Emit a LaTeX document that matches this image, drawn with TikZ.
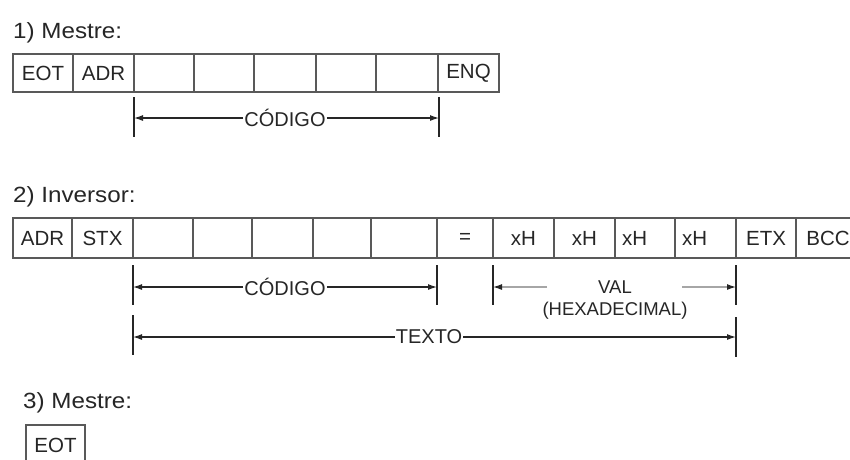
\documentclass[tikz,border=0pt]{standalone}
\usepackage{fontspec}
\setmainfont{Liberation Sans}
\newfontfamily\titlefont[FakeStretch=1.1]{Liberation Sans}
\usetikzlibrary{arrows.meta}

\definecolor{ink}{HTML}{262626}

\tikzset{
  cell/.style 2 args={draw=black!65, line width=1.4pt, minimum width=#1, minimum height=#2,
    inner sep=0pt, text=ink, font=\fontsize{20.5}{20.5}\selectfont},
  leftcell/.style 2 args={cell={#1}{#2}, text width=#1-14pt, align=left, inner xsep=7pt},
  heading/.style={anchor=base west, inner sep=0pt, text=ink, font=\titlefont\fontsize{22}{22}\selectfont},
  dimlabel/.style={inner sep=1pt, text=ink, font=\fontsize{20}{20}\selectfont},
  vallabel/.style={inner sep=1pt, text=ink, font=\fontsize{18.5}{18.5}\selectfont},
  bar/.style={line width=1.4pt, draw=black!85},
  dimline/.style={line width=1.2pt, draw=black!85, -{Latex[length=9pt,width=6pt]}},
  greyline/.style={line width=1.2pt, draw=black!35, -{Latex[length=9pt,width=6pt,black!85]}}
}

\begin{document}
\begin{tikzpicture}[x=1pt,y=-1pt]
  \clip (0,0) rectangle (850,459);
  \fill[white] (0,0) rectangle (850,459);

  % 1) Mestre
  \node[heading] (t1) at (13,38) {1) Mestre:};
  \node[cell={60}{38}] (m1) at (43,73) {EOT};
  \node[cell={61}{38}] (m2) at (103.5,73) {ADR};
  \node[cell={60}{38}] (m3) at (164,73) {};
  \node[cell={60}{38}] (m4) at (224,73) {};
  \node[cell={62}{38}] (m5) at (285,73) {};
  \node[cell={60}{38}] (m6) at (346,73) {};
  \node[cell={62}{38}] (m7) at (407,73) {};
  \node[cell={61}{38}] (m8) at (468.5,73) {ENQ};

  \coordinate (b1a) at (134,97);  \coordinate (b1b) at (134,137);
  \coordinate (b2a) at (439,97);  \coordinate (b2b) at (439,137);
  \coordinate (a1l) at (134,118); \coordinate (a1r) at (439,118);
  \draw[bar] (b1a) -- (b1b);
  \draw[bar] (b2a) -- (b2b);
  \node[dimlabel] (cod1) at (285,118) {CÓDIGO};
  \draw[dimline] (cod1.west) -- (a1l);
  \draw[dimline] (cod1.east) -- (a1r);

  % 2) Inversor
  \node[heading] (t2) at (13,202) {2) Inversor:};
  \node[cell={59}{40}] (i1) at (42.5,238) {ADR};
  \node[cell={61}{40}] (i2) at (102.5,238) {STX};
  \node[cell={60}{40}] (i3) at (163,238) {};
  \node[cell={59}{40}] (i4) at (222.5,238) {};
  \node[cell={61}{40}] (i5) at (282.5,238) {};
  \node[cell={58}{40}] (i6) at (342,238) {};
  \node[cell={66}{40}] (i7) at (404,238) {};
  \node[cell={56}{40}] (i8) at (465,238) {=};
  \node[cell={61}{40}] (i9) at (523.5,238) {xH};
  \node[cell={61}{40}] (i10) at (584.5,238) {xH};
  \node[leftcell={60pt}{40}] (i11) at (645,238) {xH};
  \node[leftcell={61pt}{40}] (i12) at (705.5,238) {xH};
  \node[cell={60}{40}] (i13) at (766,238) {ETX};
  \node[cell={64}{40}] (i14) at (828,238) {BCC};

  \coordinate (b3a) at (133,265);  \coordinate (b3b) at (133,305);
  \coordinate (b4a) at (437,265);  \coordinate (b4b) at (437,305);
  \coordinate (a3l) at (133,287);  \coordinate (a3r) at (437,287);
  \draw[bar] (b3a) -- (b3b);
  \draw[bar] (b4a) -- (b4b);
  \node[dimlabel] (cod2) at (285,287) {CÓDIGO};
  \draw[dimline] (cod2.west) -- (a3l);
  \draw[dimline] (cod2.east) -- (a3r);

  \coordinate (b5a) at (493,265);  \coordinate (b5b) at (493,305);
  \coordinate (b6a) at (736,265);  \coordinate (b6b) at (736,305);
  \coordinate (a5l) at (493,287);  \coordinate (a5r) at (736,287);
  \coordinate (v1) at (547,287);   \coordinate (v2) at (682,287);
  \draw[bar] (b5a) -- (b5b);
  \draw[bar] (b6a) -- (b6b);
  \node[vallabel] (val) at (615,287) {VAL};
  \node[vallabel] (hex) at (615,311) {(HEXADECIMAL)};
  \draw[greyline] (v1) -- (a5l);
  \draw[greyline] (v2) -- (a5r);

  \coordinate (b7a) at (133,315);  \coordinate (b7b) at (133,355);
  \coordinate (b8a) at (736,317);  \coordinate (b8b) at (736,357);
  \coordinate (a7l) at (133,337);  \coordinate (a7r) at (736,337);
  \draw[bar] (b7a) -- (b7b);
  \draw[bar] (b8a) -- (b8b);
  \node[dimlabel] (txt) at (429,337) {TEXTO};
  \draw[dimline] (txt.west) -- (a7l);
  \draw[dimline] (txt.east) -- (a7r);

  % 3) Mestre
  \node[heading] (t3) at (23,408) {3) Mestre:};
  \node[cell={59}{40}] (e1) at (55.5,445) {EOT};
\end{tikzpicture}
\end{document}
